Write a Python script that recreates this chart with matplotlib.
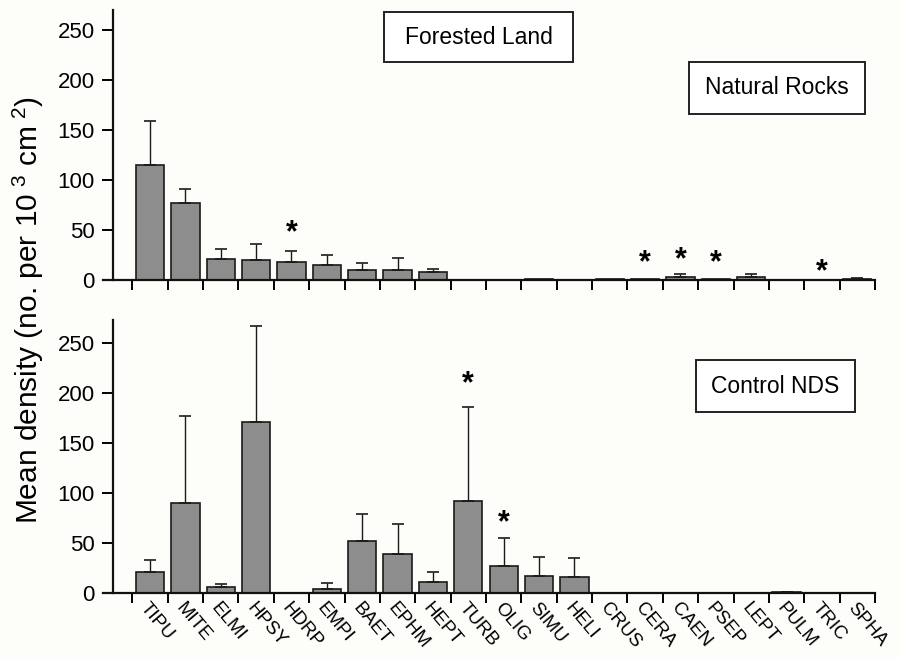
import matplotlib

matplotlib.use("Agg")
import matplotlib.pyplot as plt
import numpy as np
from matplotlib.patches import Rectangle

plt.rcParams["font.family"] = ["Liberation Sans", "DejaVu Sans"]
plt.rcParams["mathtext.fontset"] = "custom"
plt.rcParams["mathtext.rm"] = "Liberation Sans"

TAXA = [
    "TIPU", "MITE", "ELMI", "HPSY", "HDRP", "EMPI", "BAET", "EPHM", "HEPT", "TURB",
    "OLIG", "SIMU", "HELI", "CRUS", "CERA", "CAEN", "PSEP", "LEPT", "PULM", "TRIC", "SPHA",
]

# Forested land / natural rocks
forest_mean = [115, 77, 21, 20, 18, 15, 10, 10, 8, 0, 0, 1, 0, 1, 1, 3, 1, 3, 0, 0, 1]
forest_err = [44, 14, 10, 16, 11, 10, 7, 12, 3, 0, 0, 0, 0, 0, 0, 3, 0, 3, 0, 0, 1]
forest_stars = {"HDRP": 47, "CERA": 17, "CAEN": 20, "PSEP": 17, "TRIC": 8}

# Control NDS
control_mean = [21, 90, 6, 171, 0, 4, 52, 39, 11, 92, 27, 17, 16, 0.5, 0, 0, 0, 0.5, 1, 0, 0.3]
control_err = [12, 87, 3, 96, 0, 6, 27, 30, 10, 94, 28, 19, 19, 0, 0, 0, 0, 0, 0.5, 0, 0]
control_stars = {"TURB": 209, "OLIG": 70}

W, H = 901, 658
BG = "#fdfdf9"
BAR_COLOR = "#8d8d8d"


def px_box(x0, y_top, x1, y_bottom):
    return [x0 / W, 1 - y_bottom / H, (x1 - x0) / W, (y_bottom - y_top) / H]


def draw_panel(ax, means, errs, stars, ymax, show_labels):
    x = np.arange(len(TAXA))
    ax.set_facecolor(BG)
    ax.bar(x, means, width=0.8, color=BAR_COLOR, edgecolor="#1a1a1a", linewidth=1.2, zorder=2)
    errs = np.asarray(errs, dtype=float)
    means = np.asarray(means, dtype=float)
    has_err = errs > 0
    ax.errorbar(
        x[has_err], means[has_err],
        yerr=[np.zeros(has_err.sum()), errs[has_err]],
        fmt="none", ecolor="#1a1a1a", elinewidth=1.0, capsize=4.5, capthick=1.2, zorder=3,
    )
    for name, y in stars.items():
        ax.text(TAXA.index(name), y, "*", ha="center", va="center", fontsize=22, fontweight="bold")

    ax.set_xlim(-1.33, 20.5)
    ax.set_ylim(0, ymax)
    ax.spines["top"].set_visible(False)
    ax.spines["right"].set_visible(False)
    ax.spines["left"].set_position(("data", -1.05))
    for side in ("left", "bottom"):
        ax.spines[side].set_linewidth(1.6)
        ax.spines[side].set_color("#111111")

    ax.set_yticks([0, 50, 100, 150, 200, 250])
    ax.tick_params(axis="y", direction="out", length=8, width=1.4, labelsize=16, pad=5)
    ax.set_xticks(np.arange(len(TAXA) + 1) - 0.5)
    ax.set_xticklabels([])
    ax.tick_params(axis="x", direction="out", length=7, width=1.4)
    ax.set_xticks(x, minor=True)
    ax.tick_params(axis="x", which="minor", length=0)
    if show_labels:
        ax.set_xticklabels(TAXA, minor=True, rotation=-50, ha="left", rotation_mode="anchor", fontsize=13.5)
        ax.tick_params(axis="x", which="minor", pad=5)


def label_box(fig, text, x0, y_top, x1, y_bottom):
    rect = Rectangle(
        (x0 / W, 1 - y_bottom / H), (x1 - x0) / W, (y_bottom - y_top) / H,
        transform=fig.transFigure, facecolor="white", edgecolor="#222222", linewidth=1.4, zorder=5,
    )
    fig.add_artist(rect)
    fig.text((x0 + x1) / 2 / W, 1 - (y_top + y_bottom) / 2 / H, text,
             ha="center", va="center", fontsize=16.5, zorder=6)


def main():
    fig = plt.figure(figsize=(W / 100, H / 100), dpi=100, facecolor=BG)
    ax_top = fig.add_axes(px_box(103, 10, 875, 280))
    ax_bottom = fig.add_axes(px_box(103, 320, 875, 593))

    draw_panel(ax_top, forest_mean, forest_err, forest_stars, 270, False)
    draw_panel(ax_bottom, control_mean, control_err, control_stars, 273, True)

    label_box(fig, "Forested Land", 384, 12, 573, 62)
    label_box(fig, "Natural Rocks", 689, 62, 865, 114)
    label_box(fig, "Control NDS", 696, 360, 855, 412)

    fig.text(28 / W, 1 - 310 / H, r"Mean density (no. per 10$^{\ 3}$ cm$^{\ 2}$)",
             rotation=90, ha="center", va="center", fontsize=21.5)

    fig.savefig("out.png", dpi=100, facecolor=BG)
    plt.close(fig)


if __name__ == "__main__":
    main()
